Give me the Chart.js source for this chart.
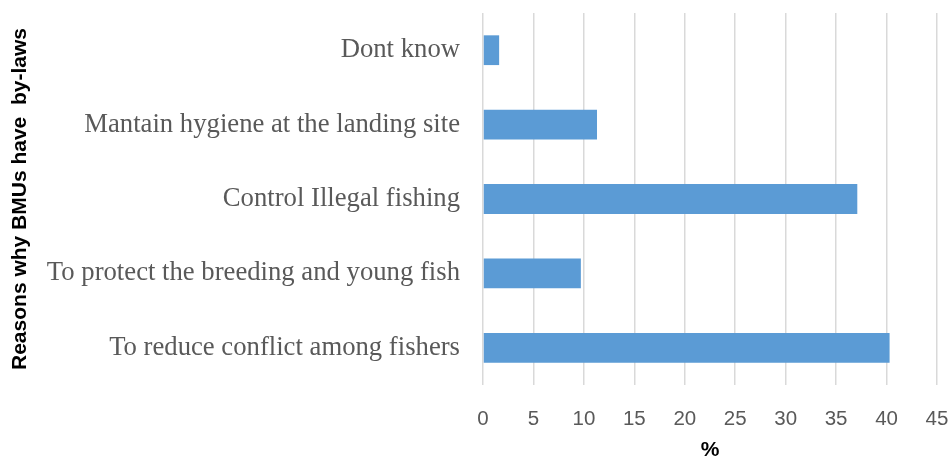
<!DOCTYPE html>
<html>
<head>
<meta charset="utf-8">
<script src="https://cdn.jsdelivr.net/npm/chart.js@4/dist/chart.umd.min.js"></script>
<style>
  html, body { margin: 0; padding: 0; background: #fff; }
  #wrap { width: 949px; height: 463px; }
</style>
</head>
<body>
<div id="wrap"><canvas id="chart_byLawReasons"></canvas></div>
<script>
var reasons = [
    'Dont know',
    'Mantain hygiene at the landing site',
    'Control Illegal fishing',
    'To protect the breeding and young fish',
    'To reduce conflict among fishers'
];
var percentValues = [1.6, 11.3, 37.1, 9.7, 40.3];
var xTickValues = [0, 5, 10, 15, 20, 25, 30, 35, 40, 45];

var chart_byLawReasons = new Chart(document.getElementById('chart_byLawReasons'), {
    type: 'bar',
    data: {
        labels: reasons,
        datasets: [
            {
                label: '%',
                data: percentValues,
                backgroundColor: '#5B9BD5',
                borderWidth: 0,
                barPercentage: 0.4,
                categoryPercentage: 1.0
            }
        ]
    },
    options: {
        indexAxis: 'y',
        animation: false,
        responsive: true,
        maintainAspectRatio: false,
        layout: {
            padding: { left: 0, right: 12, top: 13, bottom: 0 }
        },
        plugins: {
            legend: { display: false },
            tooltip: { enabled: false }
        },
        scales: {
            x: {
                min: xTickValues[0],
                max: xTickValues[xTickValues.length - 1],
                afterBuildTicks: function (scale) {
                    scale.ticks = xTickValues.map(function (v) { return { value: v }; });
                },
                grid: {
                    color: '#d9d9d9',
                    lineWidth: 1.5,
                    drawTicks: true,
                    tickLength: 0
                },
                border: { display: false },
                ticks: {
                    color: '#595959',
                    padding: 22,
                    font: { family: '"Liberation Sans", Arial, sans-serif', size: 20.5 }
                },
                title: {
                    display: true,
                    text: '%',
                    color: '#000',
                    padding: { top: 0, bottom: 0 },
                    font: { family: '"Liberation Sans", Arial, sans-serif', size: 21, weight: 'bold' }
                },
                afterFit: function (scale) {
                    scale.height = 78;
                    scale.paddingLeft = 0;
                    scale.paddingRight = 0;
                }
            },
            y: {
                grid: { display: false, drawTicks: false },
                border: { display: false },
                ticks: {
                    color: '#595959',
                    padding: 23,
                    font: { family: '"Liberation Serif", "Times New Roman", serif', size: 26.7 }
                },
                title: {
                    display: true,
                    text: 'Reasons why BMUs have  by-laws',
                    color: '#000',
                    padding: { top: 8, bottom: 0 },
                    font: { family: '"Liberation Sans", Arial, sans-serif', size: 21, weight: 'bold' }
                },
                afterFit: function (scale) {
                    scale.width = 483;
                    scale.paddingTop = 0;
                    scale.paddingBottom = 0;
                }
            }
        }
    },
    plugins: [{
        id: 'whiteBackground',
        beforeDraw: (chart) => {
            const ctx = chart.canvas.getContext('2d');
            ctx.save();
            ctx.globalCompositeOperation = 'destination-over';
            ctx.fillStyle = 'white';
            ctx.fillRect(0, 0, chart.canvas.width, chart.canvas.height);
            ctx.restore();
        }
    }]
});
</script>
</body>
</html>
